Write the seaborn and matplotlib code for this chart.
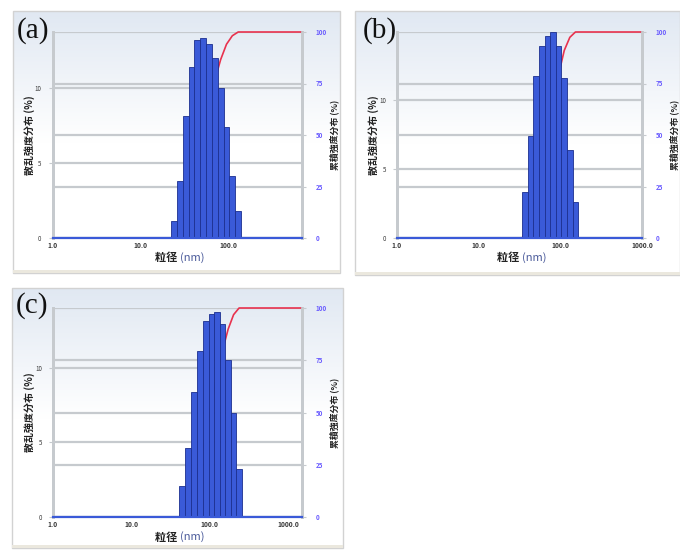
import numpy as np
import pandas as pd
import matplotlib
matplotlib.use("Agg")
import matplotlib.pyplot as plt
import seaborn as sns
from matplotlib.patches import Rectangle
from matplotlib.ticker import FixedLocator, FixedFormatter, NullLocator

# ---------------- data ----------------
a_edges_nm = [22.4, 26.1, 30.4, 35.5, 41.4, 48.3, 56.2, 65.6, 76.4, 89.1, 103.9, 121.2, 141.3]
a_freq = [1.1, 3.8, 8.1, 11.4, 13.2, 13.3, 12.9, 12.0, 10.0, 7.4, 4.1, 1.8]

b_edges_nm = [34.2, 40.1, 46.9, 54.9, 64.3, 75.2, 88.1, 103.2, 120.8, 141.4, 165.6]
b_freq = [3.3, 7.4, 11.7, 13.9, 14.6, 14.9, 13.9, 11.6, 6.4, 2.6]

c_edges_nm = [41.0, 48.5, 57.9, 68.4, 81.7, 96.4, 111.7, 133.0, 157.4, 186.2, 217.3, 257.0]
c_freq = [2.1, 4.6, 8.4, 11.1, 13.1, 13.6, 13.7, 12.9, 10.5, 7.0, 3.2]

panel_labels = ["(a)", "(b)", "(c)"]
x_min = [1.0, 1.0, 1.0]
x_max = [700.0, 1000.0, 1500.0]
left_ymax = [13.7, 14.9, 14.0]
x_tick_values = [1, 10, 100, 1000]
x_tick_labels = ["1.0", "10.0", "100.0", "1000.0"]
left_tick_values = [0, 5, 10]
left_tick_labels = ["0", "5", "10"]
right_tick_values = [0, 25, 50, 75, 100]
right_tick_labels = ["0", "25", "50", "75", "100"]
x_label_main = "粒径"
x_label_unit = "(nm)"
left_ylabel = "散乱強度分布 (%)"
right_ylabel = "累積強度分布 (%)"

# ---------------- style ----------------
sns.set_theme(style="white")
plt.rcParams["font.family"] = ["Noto Sans CJK JP", "DejaVu Sans"]

W, H = 680, 552
fig = plt.figure(figsize=(W / 100, H / 100), dpi=100)
fig.patch.set_facecolor("white")

GRID = "#c6cace"
BAR = "#3a5ad8"
BAR_EDGE = "#1c2f8f"
RED = "#e8324e"
RTICK = "#6a5cff"


def fbox(x0, y0, x1, y1):
    """pixel box (top-left origin) -> figure fraction rect"""
    return [x0 / W, (H - y1) / H, (x1 - x0) / W, (y1 - y0) / H]


panel_boxes = [(13, 11, 340, 273), (355, 11, 680, 275), (12, 288, 343, 548)]
axes_boxes = [(52.7, 32, 302, 238), (397, 32, 642, 238), (53, 308, 302, 517)]
label_pos = [(17, 31), (363, 31), (16, 306)]

datasets = [(a_edges_nm, a_freq), (b_edges_nm, b_freq), (c_edges_nm, c_freq)]

# gradient background image
grad_rows = 200
g = np.linspace(0, 1, grad_rows)
t = np.clip(g / 0.5, 0, 1)
top = np.array([0.88, 0.91, 0.95])
col = top[None, :] * (1 - t[:, None]) + np.ones(3)[None, :] * t[:, None]
grad_img = np.repeat(col[:, None, :], 2, axis=1)

for i in range(3):
    # panel background
    pb = panel_boxes[i]
    bg = fig.add_axes(fbox(*pb), zorder=0)
    bg.imshow(grad_img, aspect="auto", extent=[0, 1, 0, 1])
    bg.set_xlim(0, 1)
    bg.set_ylim(0, 1)
    bg.axis("off")
    fig.patches.append(Rectangle((pb[0] / W, (H - pb[3]) / H), (pb[2] - pb[0]) / W,
                                 (pb[3] - pb[1]) / H, transform=fig.transFigure,
                                 fill=False, edgecolor="#d2d2d2", lw=1.0, zorder=1))
    fig.patches.append(Rectangle((pb[0] / W, (H - pb[3]) / H), (pb[2] - pb[0]) / W,
                                 3 / H, transform=fig.transFigure,
                                 facecolor="#ebe8de", edgecolor="none", zorder=1))

    edges, freq = datasets[i]
    edges = np.asarray(edges, dtype=float)
    freq = np.asarray(freq, dtype=float)
    centers = np.sqrt(edges[:-1] * edges[1:])
    cum = np.cumsum(freq) / freq.sum() * 100

    ax = fig.add_axes(fbox(*axes_boxes[i]), zorder=3)
    ax2 = ax.twinx()
    ax2.set_zorder(2)
    ax.set_zorder(3)
    ax.patch.set_visible(False)
    ax2.patch.set_visible(False)

    ax.set_xscale("log")
    ax.set_xlim(x_min[i], x_max[i])
    ax.set_ylim(0, left_ymax[i])
    ax2.set_ylim(0, 100)

    # cumulative line (behind bars)
    cum_df = pd.DataFrame({
        "d": np.concatenate([[x_min[i], edges[0]], centers, [x_max[i]]]),
        "c": np.concatenate([[0, 0], cum, [100]]),
    })
    sns.lineplot(data=cum_df, x="d", y="c", ax=ax2, color=RED, lw=1.2,
                 sort=False, estimator=None, zorder=4, clip_on=False)
    ax2.set_xlim(x_min[i], x_max[i])

    # vertical grid on ax2 (behind)
    ax2.xaxis.set_major_locator(FixedLocator(x_tick_values))
    ax2.xaxis.set_minor_locator(NullLocator())
    ax2.grid(True, axis="x", color=GRID, lw=2.2, zorder=0)
    ax2.set_axisbelow(True)
    ax2.yaxis.set_major_locator(FixedLocator(right_tick_values))
    ax2.yaxis.set_major_formatter(FixedFormatter(right_tick_labels))
    ax2.grid(True, axis="y", color=GRID, lw=1.6)

    # bars
    ax.bar(edges[:-1], freq, width=np.diff(edges), align="edge",
           color=BAR, edgecolor=BAR_EDGE, linewidth=0.6, zorder=3)

    ax.xaxis.set_major_locator(FixedLocator(x_tick_values))
    ax.xaxis.set_major_formatter(FixedFormatter(x_tick_labels))
    ax.xaxis.set_minor_locator(NullLocator())
    ax.yaxis.set_major_locator(FixedLocator(left_tick_values))
    ax.yaxis.set_major_formatter(FixedFormatter(left_tick_labels))
    ax.set_axisbelow(True)
    ax.grid(True, axis="y", color=GRID, lw=1.6)
    ax.grid(False, axis="x")

    for s in ["left", "right"]:
        ax.spines[s].set_color(GRID)
        ax.spines[s].set_linewidth(2.0)
        ax2.spines[s].set_color(GRID)
        ax2.spines[s].set_linewidth(2.0)
    ax.spines["top"].set_visible(False)
    ax2.spines["top"].set_visible(False)
    ax.spines["bottom"].set_color(BAR)
    ax.spines["bottom"].set_linewidth(1.6)
    ax2.spines["bottom"].set_visible(False)
    ax.spines["bottom"].set_zorder(5)

    ax.tick_params(axis="x", length=0, pad=3, labelsize=4.8, labelcolor="#3a3a3a")
    ax.tick_params(axis="y", length=3, width=0.8, color=GRID, pad=5,
                   labelsize=4.5, labelcolor="#3a3a3a")
    ax2.tick_params(axis="y", length=3, width=0.8, color=GRID, pad=7,
                    labelsize=4.5, labelcolor=RTICK)
    ax2.tick_params(axis="x", length=0, labelbottom=False)
    ax2.set_xlabel("")
    for lab in ax.get_xticklabels():
        lab.set_fontweight("bold")
    for lab in ax2.get_yticklabels():
        lab.set_fontweight("bold")

    ax.set_ylabel(left_ylabel, fontsize=7.2, fontweight="bold", color="#222222", labelpad=0)
    ax2.set_ylabel(right_ylabel, fontsize=6.4, fontweight="bold", color="#222222",
                   labelpad=2, rotation=90)
    ax2.yaxis.set_label_position("right")

    # x label: "粒径" dark, "(nm)" bluish
    ab = axes_boxes[i]
    cx = (ab[0] + ab[2]) / 2
    ly = ab[3] + 20
    fig.text(cx / W + 0.004, (H - ly) / H, x_label_main + " ", ha="right", va="center",
             fontsize=8, fontweight="bold", color="#222222", zorder=6)
    fig.text(cx / W + 0.004, (H - ly) / H, x_label_unit, ha="left", va="center",
             fontsize=8, color="#4a5a9a", zorder=6)

    lp = label_pos[i]
    fig.text(lp[0] / W, (H - lp[1]) / H, panel_labels[i], ha="left", va="center",
             fontsize=21, family=["Liberation Serif", "DejaVu Serif"], color="#111111",
             zorder=6)

fig.savefig("out.png", dpi=100)
